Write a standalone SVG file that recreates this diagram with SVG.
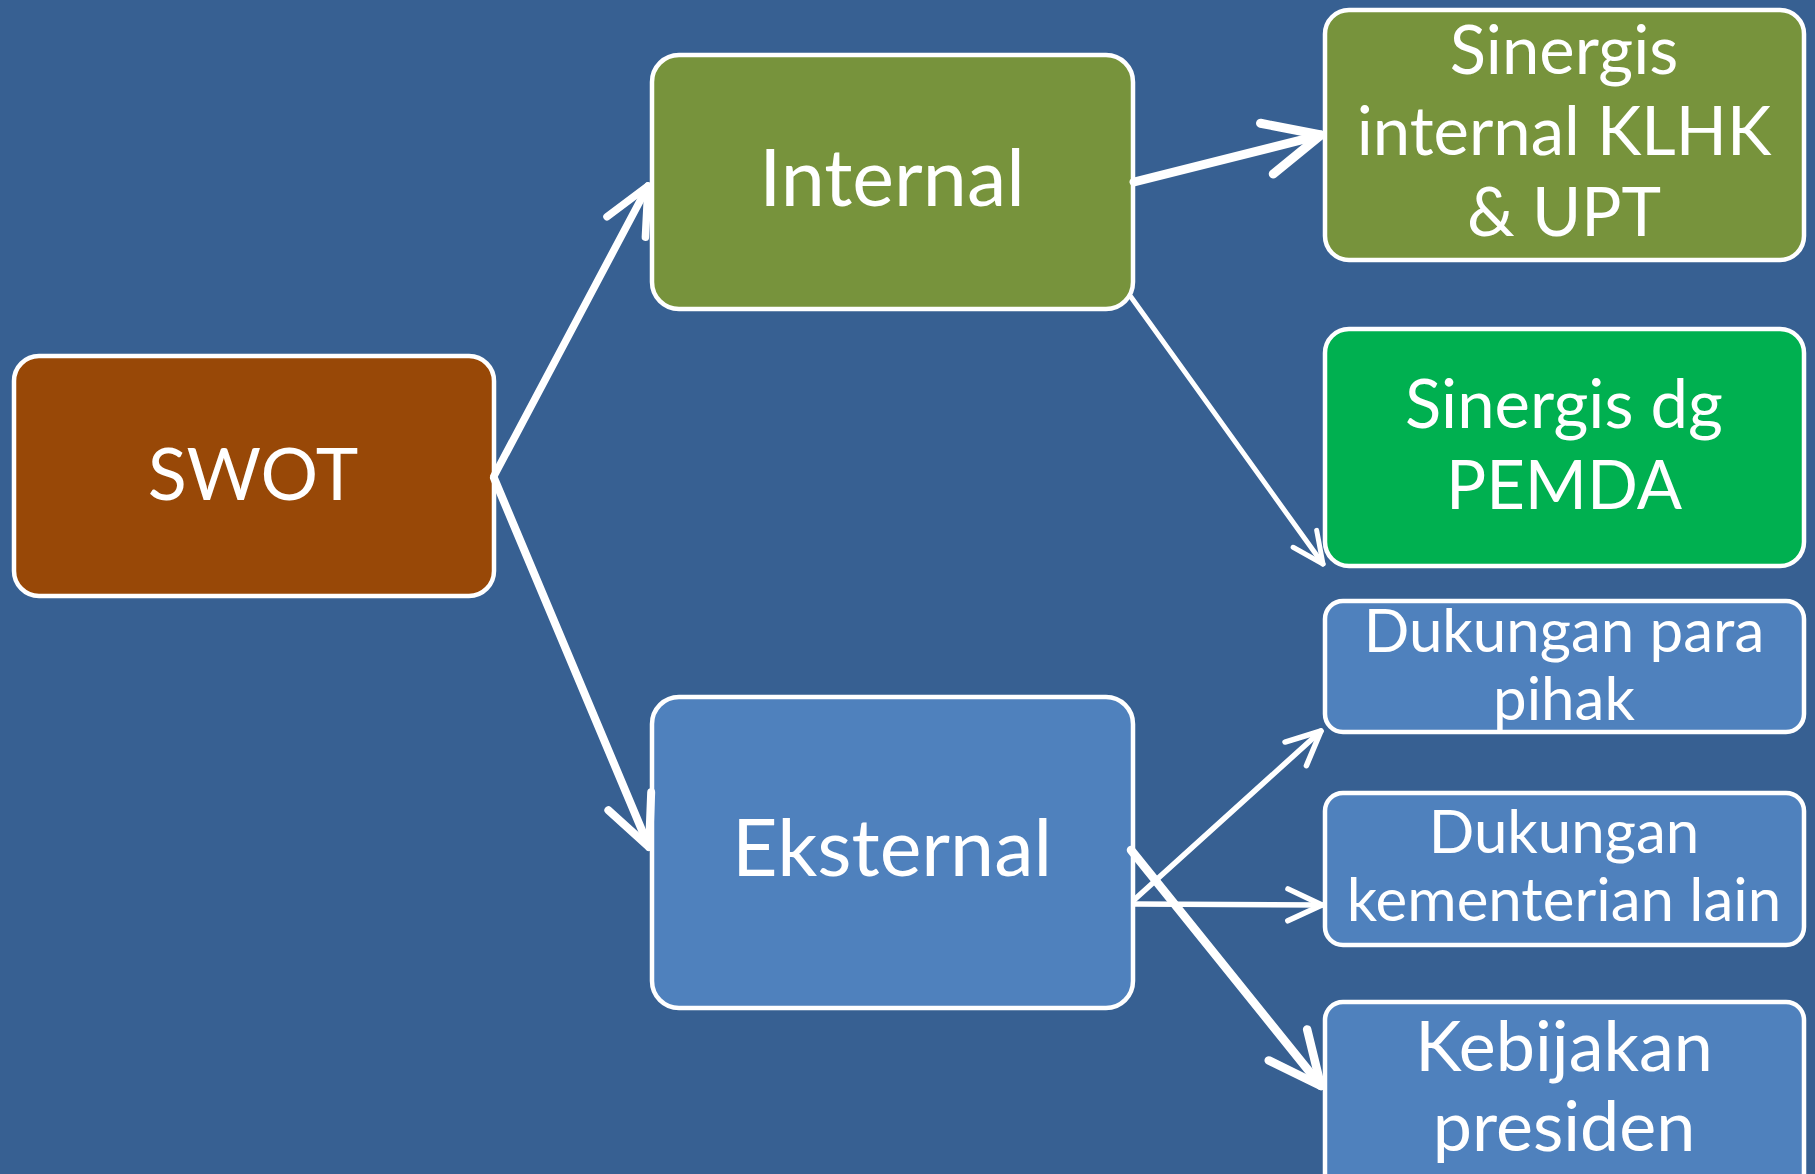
<svg xmlns="http://www.w3.org/2000/svg" width="1815" height="1174" viewBox="0 0 1815 1174">
<style>
.box{stroke:#fff;stroke-width:4.5}
.t{font-family:Lato,"Open Sans","Liberation Sans",sans-serif;fill:#fff;text-anchor:middle}
.big{font-size:79px}
.mid{font-size:67px}
.sm{font-size:60px}
.kb{font-size:70px}
.c{stroke:#fff;fill:none;stroke-linecap:round;marker-end:url(#arr)}
</style>
<defs>
<marker id="arr" viewBox="-8 -4 9 8" refX="0" refY="0" markerWidth="9" markerHeight="8" orient="auto" markerUnits="strokeWidth" overflow="visible">
<path d="M-6.2,-2.9 L0,0 L-6.2,2.9" fill="none" stroke="#fff" stroke-width="1" stroke-linecap="round" stroke-linejoin="round"/>
</marker>
</defs>
<rect x="0" y="0" width="1815" height="1174" fill="#376092"/>
<g id="swot"><rect class="box" x="14" y="356" width="480" height="240" rx="25" fill="#984807"/><text class="t big" x="253" y="500" style="font-size:72px">SWOT</text></g>
<g id="internal"><rect class="box" x="652" y="55" width="481" height="254" rx="27" fill="#77933C"/><text class="t big" x="892" y="206">Internal</text></g>
<g id="eksternal"><rect class="box" x="652" y="697" width="481" height="311" rx="27" fill="#4F81BD"/><text class="t big" x="892" y="876">Eksternal</text></g>
<g id="sinergis-internal"><rect class="box" x="1325" y="10" width="479" height="250" rx="24" fill="#77933C"/><text class="t mid" x="1564" y="74">Sinergis</text><text class="t mid" x="1564" y="155">internal KLHK</text><text class="t mid" x="1564" y="236">&amp; UPT</text></g>
<g id="sinergis-pemda"><rect class="box" x="1325" y="329" width="479" height="237" rx="24" fill="#00B050"/><text class="t mid" x="1564" y="428">Sinergis dg</text><text class="t mid" x="1564" y="509">PEMDA</text></g>
<g id="dukungan-para-pihak"><rect class="box" x="1325" y="601" width="479" height="131" rx="18" fill="#4F81BD"/><text class="t sm" x="1564" y="652">Dukungan para</text><text class="t sm" x="1564" y="720">pihak</text></g>
<g id="dukungan-kementerian"><rect class="box" x="1325" y="793" width="479" height="152" rx="18" fill="#4F81BD"/><text class="t sm" x="1564" y="853">Dukungan</text><text class="t sm" x="1564" y="921">kementerian lain</text></g>
<g id="kebijakan-presiden"><rect class="box" x="1325" y="1002" width="479" height="190" rx="18" fill="#4F81BD"/><text class="t kb" x="1564" y="1071">Kebijakan</text><text class="t kb" x="1564" y="1151">presiden</text></g>
<g id="connectors">
<line class="c" stroke-width="7.5" x1="494" y1="476" x2="648" y2="186"/>
<line class="c" stroke-width="8" x1="494" y1="478" x2="649" y2="847"/>
<line class="c" stroke-width="9" x1="1134" y1="182" x2="1321" y2="135"/>
<line class="c" stroke-width="5" x1="1131" y1="297" x2="1323" y2="564"/>
<line class="c" stroke-width="5.5" x1="1134" y1="900" x2="1321" y2="731"/>
<line class="c" stroke-width="5.5" x1="1134" y1="904" x2="1322" y2="905"/>
<line class="c" stroke-width="8.5" x1="1131" y1="850" x2="1321" y2="1086"/>
</g>
</svg>
